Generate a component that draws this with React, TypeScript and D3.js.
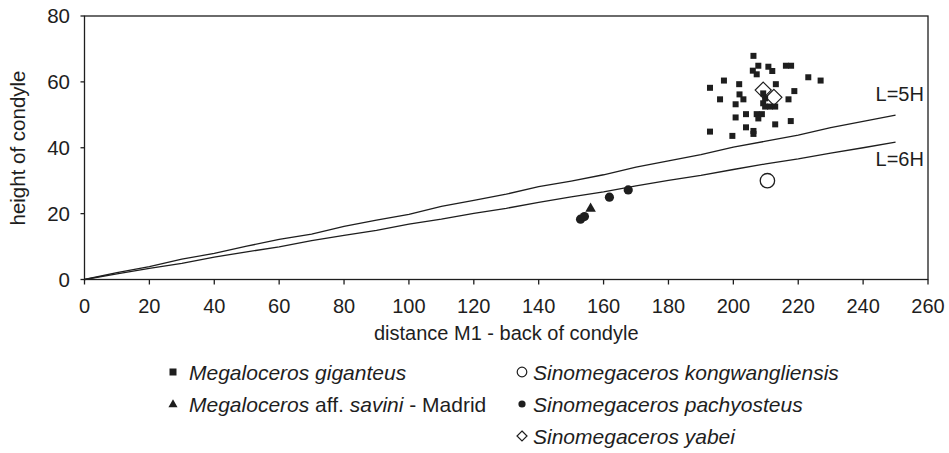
import React from "react";
import * as d3 from "d3";

const xTicks = [0, 20, 40, 60, 80, 100, 120, 140, 160, 180, 200, 220, 240, 260];
const yTicks = [0, 20, 40, 60, 80];

const lineX = [0, 10, 20, 30, 40, 50, 60, 70, 80, 90, 100, 110, 120, 130, 140, 150, 160, 170, 180, 190, 200, 210, 220, 230, 240, 250];
const line5H = [0, 2.1, 3.9, 6.2, 7.9, 10.1, 12.2, 13.8, 16.1, 18.0, 19.8, 22.2, 24.0, 25.9, 28.2, 29.9, 31.8, 34.1, 36.0, 37.9, 40.2, 42.0, 43.8, 46.1, 48.0, 49.9];
const line6H = [0, 1.7, 3.4, 4.9, 6.8, 8.4, 9.9, 11.8, 13.4, 14.9, 16.8, 18.3, 20.1, 21.6, 23.4, 25.1, 26.6, 28.4, 30.1, 31.6, 33.4, 35.1, 36.6, 38.4, 40.0, 41.7];

const gigX = [206.2, 207.7, 210.8, 216.2, 217.8, 206.0, 207.2, 212.0, 223.1, 226.9, 197.1, 192.8, 201.8, 213.1, 218.8, 201.9, 195.9, 203.1, 200.7, 217.0, 209.2, 209.8, 209.2, 211.3, 212.9, 209.8, 203.9, 207.2, 208.8, 207.7, 200.7, 217.7, 212.9, 203.9, 206.2, 206.2, 192.8, 199.7];
const gigY = [67.9, 64.9, 64.6, 64.9, 64.9, 63.4, 62.3, 63.3, 61.4, 60.4, 60.4, 58.2, 59.3, 59.3, 57.2, 56.2, 54.7, 54.7, 53.2, 54.7, 56.5, 55.0, 53.5, 52.5, 52.5, 52.5, 50.2, 50.2, 50.2, 48.9, 49.2, 48.1, 47.1, 46.2, 45.1, 44.2, 44.9, 43.6];

const savX = [156.0];
const savY = [21.5];

const kongX = [210.5];
const kongY = [30.0];

const pachX = [152.9, 154.1, 161.8, 167.6];
const pachY = [18.3, 19.1, 25.0, 27.2];

const yabX = [209.2, 212.5];
const yabY = [57.5, 55.3];

const legendLeft = ["Megaloceros giganteus", "Megaloceros aff. savini - Madrid"];
const legendRight = ["Sinomegaceros kongwangliensis", "Sinomegaceros pachyosteus", "Sinomegaceros yabei"];

const W = 949;
const H = 453;
const X0 = 84.5, X1 = 928;
const Y0 = 279.5, Y1 = 16;
const INK = "#1e1e1e";
const FONT = "'Liberation Sans', Arial, sans-serif";

export default function App() {
  const x = d3.scaleLinear().domain([0, 260]).range([X0, X1]);
  const y = d3.scaleLinear().domain([0, 80]).range([Y0, Y1]);
  const line = d3.line<[number, number]>().x(d => x(d[0])).y(d => y(d[1]));
  const p5 = line(lineX.map((v, i) => [v, line5H[i]]) as [number, number][]) || "";
  const p6 = line(lineX.map((v, i) => [v, line6H[i]]) as [number, number][]) || "";
  const tri = d3.symbol().type(d3.symbolTriangle).size(48)() || "";
  const triL = d3.symbol().type(d3.symbolTriangle).size(36)() || "";
  const fs = 20;
  const lfs = 21;

  const rowY = [372, 404, 436];
  const LX = 173, LT = 189, RX = 522, RT = 533;

  return (
    <div style={{ position: "absolute", left: 0, top: 0 }}>
      <svg width={W} height={H} style={{ display: "block", background: "#fff" }} fontFamily={FONT}>
        <rect x={0} y={0} width={W} height={H} fill="#fff" />
        {/* frame */}
        <rect x={X0} y={Y1} width={X1 - X0} height={Y0 - Y1} fill="none" stroke={INK} strokeWidth={1.3} />
        {/* y ticks */}
        {yTicks.map(t => (
          <g key={"y" + t}>
            <line x1={X0 - 4} x2={X0} y1={y(t)} y2={y(t)} stroke={INK} strokeWidth={1.3} />
            <text x={70} y={y(t)} dy="0.36em" textAnchor="end" fontSize={fs + 0.5} fill={INK}>{t}</text>
          </g>
        ))}
        {/* x ticks */}
        {xTicks.map(t => (
          <g key={"x" + t}>
            <line x1={x(t)} x2={x(t)} y1={Y0} y2={Y0 + 5} stroke={INK} strokeWidth={1.3} />
            <text x={x(t)} y={313} textAnchor="middle" fontSize={fs} fill={INK}>{t}</text>
          </g>
        ))}
        <text x={(X0 + X1) / 2} y={340} textAnchor="middle" fontSize={fs} fill={INK}>distance M1 - back of condyle</text>
        <text transform={`translate(24.5,${148}) rotate(-90)`} textAnchor="middle" fontSize={fs + 0.5} fill={INK}>height of condyle</text>

        {/* reference lines */}
        <path d={p5} fill="none" stroke={INK} strokeWidth={1.3} />
        <path d={p6} fill="none" stroke={INK} strokeWidth={1.3} />
        <text x={x(250) - 20} y={101} fontSize={fs} fill={INK}>L=5H</text>
        <text x={x(250) - 20} y={166} fontSize={fs} fill={INK}>L=6H</text>

        {/* S. kongwangliensis */}
        {kongX.map((v, i) => (
          <circle key={"k" + i} cx={x(v)} cy={y(kongY[i])} r={7.2} fill="#fff" stroke={INK} strokeWidth={1.3} />
        ))}
        {/* S. pachyosteus */}
        {pachX.map((v, i) => (
          <circle key={"p" + i} cx={x(v)} cy={y(pachY[i])} r={4.6} fill={INK} />
        ))}
        {/* M. aff. savini */}
        {savX.map((v, i) => (
          <path key={"s" + i} d={tri} transform={`translate(${x(v)},${y(savY[i])})`} fill={INK} />
        ))}
        {/* M. giganteus */}
        {gigX.map((v, i) => (
          <rect key={"g" + i} x={x(v) - 3} y={y(gigY[i]) - 3} width={6} height={6} fill={INK} />
        ))}
        {/* S. yabei */}
        {yabX.map((v, i) => {
          const cx = x(v), cy = y(yabY[i]);
          return <path key={"yb" + i} d={`M${cx},${cy - 8}L${cx + 8},${cy}L${cx},${cy + 8}L${cx - 8},${cy}Z`} fill="none" stroke={INK} strokeWidth={1.2} />;
        })}

        {/* legend */}
        <rect x={LX - 3.5} y={rowY[0] - 3.5} width={7} height={7} fill={INK} />
        <path d={triL} transform={`translate(${LX},${rowY[1] + 0.5})`} fill={INK} />
        <text x={LT} y={rowY[0]} dy="0.36em" fontSize={lfs} fontStyle="italic" fill={INK}>{legendLeft[0]}</text>
        <text x={LT} y={rowY[1]} dy="0.36em" fontSize={lfs} fill={INK}>
          <tspan fontStyle="italic">Megaloceros</tspan> aff. <tspan fontStyle="italic">savini</tspan> - Madrid
        </text>

        <circle cx={RX} cy={rowY[0]} r={4.8} fill="#fff" stroke={INK} strokeWidth={1.2} />
        <circle cx={RX} cy={rowY[1]} r={3.6} fill={INK} />
        <path d={`M${RX},${rowY[2] - 5}L${RX + 5},${rowY[2]}L${RX},${rowY[2] + 5}L${RX - 5},${rowY[2]}Z`} fill="none" stroke={INK} strokeWidth={1.2} />
        {legendRight.map((t, i) => (
          <text key={"lr" + i} x={RT} y={rowY[i]} dy="0.36em" fontSize={lfs} fontStyle="italic" fill={INK}>{t}</text>
        ))}
      </svg>
    </div>
  );
}
